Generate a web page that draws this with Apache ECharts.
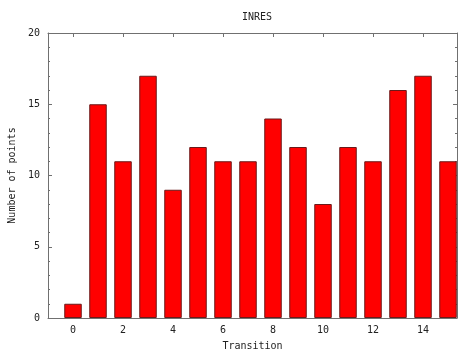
<!DOCTYPE html>
<html>
<head>
<meta charset="utf-8">
<script src="https://cdn.jsdelivr.net/npm/echarts@6/dist/echarts.min.js"></script>
<style>
  html, body { margin: 0; padding: 0; background: #fff; }
  #vis { width: 458px; height: 352px; }
</style>
</head>
<body>
<div id="vis"></div>
<script>
// Data
const transitions = [0, 1, 2, 3, 4, 5, 6, 7, 8, 9, 10, 11, 12, 13, 14, 15];
const points = [1, 15, 11, 17, 9, 12, 11, 11, 14, 12, 8, 12, 11, 16, 17, 11];
const xTicks = [0, 2, 4, 6, 8, 10, 12, 14];

const chart = echarts.init(document.getElementById("vis"));

const font = "DejaVu Sans Mono";
const axisColor = "#707070";

function xAxisDef(pos, showLabels) {
  return {
    type: "value",
    position: pos,
    min: -1,
    max: 15.36,
    name: showLabels ? "Transition" : "",
    nameLocation: "middle",
    nameGap: 23,
    nameTextStyle: { fontFamily: font, fontSize: 10, color: "#222" },
    axisLine: { show: true, onZero: false, lineStyle: { color: axisColor } },
    axisTick: { show: true, inside: true, length: 4, customValues: xTicks, lineStyle: { color: axisColor } },
    axisLabel: { show: showLabels, customValues: xTicks, margin: 7, fontFamily: font, fontSize: 10, color: "#222" },
    splitLine: { show: false }
  };
}

function yAxisDef(pos, showLabels) {
  return {
    type: "value",
    position: pos,
    min: 0,
    max: 20,
    interval: 5,
    name: showLabels ? "Number of points" : "",
    nameLocation: "middle",
    nameGap: 31,
    nameTextStyle: { fontFamily: font, fontSize: 10, color: "#222" },
    axisLine: { show: true, onZero: false, lineStyle: { color: axisColor } },
    axisTick: { show: true, inside: true, length: 4, lineStyle: { color: axisColor } },
    minorTick: { show: true, splitNumber: 5, length: 2, lineStyle: { color: axisColor } },
    axisLabel: { show: showLabels, margin: 8, fontFamily: font, fontSize: 10, color: "#222" },
    splitLine: { show: false }
  };
}

const options = {
  animation: false,
  title: {
    text: "INRES",
    left: 252,
    textAlign: "center",
    top: 7,
    textStyle: { fontFamily: font, fontSize: 10, fontWeight: "normal", color: "#222" }
  },
  grid: { left: 48, right: 1, top: 33, bottom: 34, containLabel: false, outerBoundsMode: "none" },
  xAxis: [xAxisDef("bottom", true), xAxisDef("top", false)],
  yAxis: [yAxisDef("left", true), yAxisDef("right", false)],
  series: [
    {
      type: "bar",
      xAxisIndex: 0,
      yAxisIndex: 0,
      barWidth: 17.5,
      data: transitions.map((t, i) => [t, points[i]]),
      itemStyle: { color: "#ff0000", borderColor: "#6a1a1a", borderWidth: 1 }
    }
  ]
};

chart.setOption(options);
</script>
</body>
</html>
